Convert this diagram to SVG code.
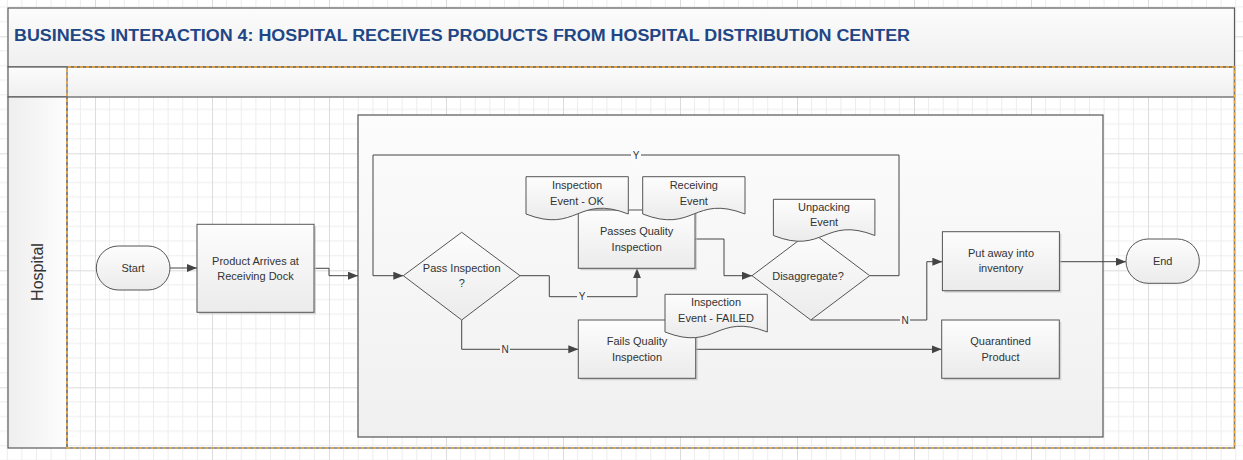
<svg xmlns="http://www.w3.org/2000/svg" width="1243" height="460" viewBox="0 0 1243 460">
<style>
  .t{font-family:"Liberation Sans",Arial,sans-serif;font-size:11px;fill:#333;text-anchor:middle}
  .lbl{font-family:"Liberation Sans",Arial,sans-serif;font-size:10px;fill:#333;text-anchor:middle}
  .shape{stroke:#555;stroke-width:1;fill:url(#gShape)}
  .shadow{fill:#bdbdbd;opacity:.6}
  .conn{fill:none;stroke:#444;stroke-width:1}
  .arrow{marker-end:url(#arr)}
  .frame{stroke:#5a5a5a;stroke-width:1.2}
  .dashG{fill:none;stroke:#7a7a7a;stroke-width:1.5}
  .dashO{fill:none;stroke:#f6ad3c;stroke-width:1.5;stroke-dasharray:3 3}
</style>
<defs>
  <pattern id="grid" patternUnits="userSpaceOnUse" x="95" y="153.3" width="117" height="117">
    <path d="M14.6 0V117M29.25 0V117M43.9 0V117M58.5 0V117M73.1 0V117M87.75 0V117M102.4 0V117M0 14.6H117M0 29.25H117M0 43.9H117M0 58.5H117M0 73.1H117M0 87.75H117M0 102.4H117" stroke="#ededed" stroke-width="1" fill="none"/>
    <path d="M0.5 0V117M0 0.5H117" stroke="#dcdcdc" stroke-width="1" fill="none"/>
  </pattern>
  <linearGradient id="gShape" x1="0" y1="0" x2="0" y2="1">
    <stop offset="0" stop-color="#fdfdfd"/>
    <stop offset="1" stop-color="#ebebeb"/>
  </linearGradient>
  <linearGradient id="gBand" x1="0" y1="0" x2="0" y2="1">
    <stop offset="0" stop-color="#fcfcfc"/>
    <stop offset="1" stop-color="#efefef"/>
  </linearGradient>
  <linearGradient id="gCont" x1="0" y1="0" x2="0" y2="1">
    <stop offset="0" stop-color="#fcfcfc"/>
    <stop offset="1" stop-color="#f0f0f0"/>
  </linearGradient>
  <linearGradient id="gHead" x1="0" y1="0" x2="1" y2="0">
    <stop offset="0" stop-color="#eeeeee"/>
    <stop offset="1" stop-color="#fdfdfd"/>
  </linearGradient>
  <marker id="arr" markerUnits="userSpaceOnUse" markerWidth="11" markerHeight="9" refX="10" refY="4" orient="auto">
    <path d="M0 0L10 4L0 8Z" fill="#444"/>
  </marker>
</defs>

<!-- background grid -->
<rect x="0" y="0" width="1243" height="460" fill="#fff"/>
<rect x="0" y="0" width="1243" height="460" fill="url(#grid)"/>

<!-- pool / lanes -->
<g id="pool">
  <rect x="8" y="8" width="1226.5" height="59" fill="url(#gBand)" class="frame"/>
  <rect x="8" y="67" width="1226.5" height="30" fill="url(#gBand)" class="frame"/>
  <rect x="8" y="97" width="59" height="351" fill="url(#gHead)" class="frame"/>
  <text x="14" y="41" font-family="Liberation Sans,Arial,sans-serif" font-weight="bold" font-size="16" fill="#1f4685" textLength="896" lengthAdjust="spacingAndGlyphs">BUSINESS INTERACTION 4: HOSPITAL RECEIVES PRODUCTS FROM HOSPITAL DISTRIBUTION CENTER</text>
  <text transform="translate(43 272) rotate(-90)" font-family="Liberation Sans,Arial,sans-serif" font-size="16" fill="#333" text-anchor="middle">Hospital</text>
  <path d="M67 448H1234.5V67H67Z" class="dashG"/>
  <path d="M67 448H1234.5V67H67Z" class="dashO"/>
</g>

<!-- container -->
<g id="container">
  <rect x="358" y="115" width="745" height="322" fill="url(#gCont)" stroke="#555" stroke-width="1.2"/>
</g>

<!-- connectors -->
<g id="connectors">
  <path class="conn arrow" d="M170 268H197"/>
  <path class="conn arrow" d="M314 268.3H329V275.7H358"/>
  <path class="conn arrow" d="M869.7 275.7H899V155H373V275.7H403.3"/>
  <path class="conn arrow" d="M520 275.7H549.3V296.7H637V268.3"/>
  <path class="conn arrow" d="M461.7 320V349.3H578.3"/>
  <path class="conn arrow" d="M695 239H724V275.7H752"/>
  <path class="conn arrow" d="M810.8 320H926.8V261.7H942.4"/>
  <path class="conn arrow" d="M1059.4 261.7H1126"/>
  <path class="conn arrow" d="M695.7 349.3H941.7"/>
  <rect x="631" y="149" width="10" height="12" fill="#fbfbfb"/>
  <text class="lbl" x="636" y="158.5">Y</text>
  <rect x="577" y="291" width="10" height="12" fill="#f6f6f6"/>
  <text class="lbl" x="582" y="300.2">Y</text>
  <rect x="500" y="343.5" width="10" height="12" fill="#f4f4f4"/>
  <text class="lbl" x="505" y="352.8">N</text>
  <rect x="900" y="314" width="10" height="12" fill="#f5f5f5"/>
  <text class="lbl" x="905" y="323.5">N</text>
</g>

<g id="start">
  <rect x="96.3" y="246" width="73.7" height="44" rx="22" class="shape"/>
  <text class="t" x="133" y="272">Start</text>
</g>

<g id="product-arrives">
  <rect x="199" y="226.3" width="117" height="88" class="shadow"/>
  <rect x="197" y="224.3" width="117" height="88" class="shape"/>
  <text class="t" x="255.5" y="265">Product Arrives at</text>
  <text class="t" x="255.5" y="280">Receiving Dock</text>
</g>

<g id="pass-inspection">
  <path d="M403.3 275.7L461.7 232.3L520 275.7L461.7 320Z" class="shape"/>
  <text class="t" x="461.7" y="272">Pass Inspection</text>
  <text class="t" x="461.7" y="287">?</text>
</g>

<g id="passes-quality">
  <rect x="580.3" y="212" width="116.7" height="58.3" class="shadow"/>
  <rect x="578.3" y="210" width="116.7" height="58.3" class="shape"/>
  <text class="t" x="636.7" y="235">Passes Quality</text>
  <text class="t" x="636.7" y="251">Inspection</text>
</g>

<g id="inspection-ok">
  <path d="M526 176.7H628.3V214C577.2 194 577.2 234 526 214Z" class="shape"/>
  <text class="t" x="577" y="189">Inspection</text>
  <text class="t" x="577" y="204.7">Event - OK</text>
</g>

<g id="receiving-event">
  <path d="M642.7 176.7H745V214C693.8 194 693.8 234 642.7 214Z" class="shape"/>
  <text class="t" x="693.8" y="189">Receiving</text>
  <text class="t" x="693.8" y="204.7">Event</text>
</g>

<g id="disaggregate">
  <path d="M752 275.7L810.8 231.4L869.7 275.7L810.8 320Z" class="shape"/>
  <text class="t" x="808" y="280">Disaggregate?</text>
</g>

<g id="unpacking-event">
  <path d="M773.4 199.3H874.9V235.5C824 215.5 824 255.5 773.4 235.5Z" class="shape"/>
  <text class="t" x="824" y="210.7">Unpacking</text>
  <text class="t" x="824" y="225.7">Event</text>
</g>

<g id="fails-quality">
  <rect x="580.3" y="322" width="117.4" height="58.3" class="shadow"/>
  <rect x="578.3" y="320" width="117.4" height="58.3" class="shape"/>
  <text class="t" x="637" y="345">Fails Quality</text>
  <text class="t" x="637" y="360.7">Inspection</text>
</g>

<g id="inspection-failed">
  <path d="M665 294.3H767.3V332C716 312 716 352 665 332Z" class="shape"/>
  <text class="t" x="716" y="306.3">Inspection</text>
  <text class="t" x="716" y="321.7">Event - FAILED</text>
</g>

<g id="put-away">
  <rect x="944.4" y="233.7" width="117" height="59" class="shadow"/>
  <rect x="942.4" y="231.7" width="117" height="59" class="shape"/>
  <text class="t" x="1001" y="256.7">Put away into</text>
  <text class="t" x="1001" y="272.3">inventory</text>
</g>

<g id="quarantined">
  <rect x="943.7" y="322" width="117.6" height="58.3" class="shadow"/>
  <rect x="941.7" y="320" width="117.6" height="58.3" class="shape"/>
  <text class="t" x="1000.5" y="345">Quarantined</text>
  <text class="t" x="1000.5" y="360.7">Product</text>
</g>

<g id="end">
  <rect x="1126" y="239" width="73.3" height="44.3" rx="22" class="shape"/>
  <text class="t" x="1162.7" y="265">End</text>
</g>
</svg>
